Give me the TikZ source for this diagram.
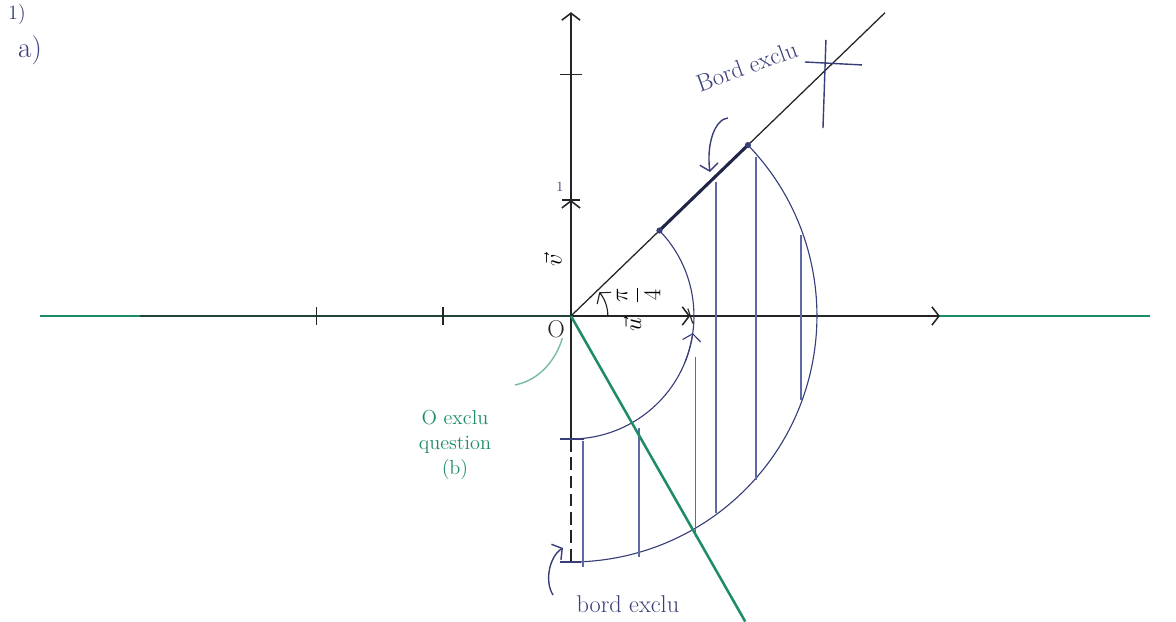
\documentclass[tikz,border=0pt]{standalone}
\usepackage{amsmath}
\usetikzlibrary{arrows.meta, positioning, calc}
\definecolor{inkblue}{RGB}{55, 62, 120}
\definecolor{hatchblue}{RGB}{95, 105, 165}
\definecolor{inkgreen}{RGB}{30, 140, 100}
\definecolor{inkgray}{RGB}{35, 35, 40}

\begin{document}
\begin{tikzpicture}[x=3.075cm, y=3.075cm,
  axisline/.style={draw=inkgray, line width=1.1pt},
  hatch/.style={draw=hatchblue, line width=0.8pt},
  arcline/.style={draw=inkblue, line width=0.8pt},
  handtip/.style={-{Straight Barb[length=5pt, width=13pt]}},
  bluetext/.style={text=inkblue, font=\LARGE},
  greentext/.style={text=inkgreen, font=\Large, align=center}]
  \useasboundingbox (-4.642,-2.480) rectangle (4.919,2.569);

  % repere
  \coordinate (O) at (0,0);
  \coordinate (xl) at (-4.317,0);
  \coordinate (xr) at (3.0,0);
  \coordinate (xg) at (4.707,0);
  \coordinate (yt) at (0,2.47);
  \coordinate (yb) at (0,-1);
  \coordinate (ybb) at (0,-2);
  \coordinate (u) at (0.97,0);
  \coordinate (v) at (0,0.943);
  \draw[inkgreen, line width=1.6pt] (xl) -- (xg);
  \draw[axisline, draw opacity=0.7] (-3.5,0) -- (O);
  \draw[axisline, handtip] (O) -- (xr);
  \draw[inkgreen, line width=1.6pt] (xr) -- (xg);
  \draw[axisline, handtip] (yb) -- (yt);
  \draw[axisline, line width=1.7pt, dash pattern=on 9pt off 4pt] (yb) -- (ybb);
  \foreach \t in {-2.07,-1.04}
    \draw[axisline, line width=0.8pt] (\t,0.07) -- (\t,-0.07);
  \draw[axisline, line width=0.8pt] (-0.09,1.96) -- (0.09,1.96);
  \draw[axisline, handtip] (0,0.75) -- (v);
  \draw[axisline, line width=0.8pt] (-0.07,0.943) -- (0.07,0.943);
  \draw[axisline, handtip] (0.75,0) -- (u);
  \draw[axisline, line width=0.8pt] (0.95,0.06) -- (0.99,-0.06);

  % rayon pi/4
  \coordinate (r1) at (44:1);
  \coordinate (r2) at (44:2);
  \coordinate (r3) at (44:3.55);
  \draw[axisline, line width=0.9pt] (O) -- (r3);
  \draw[inkblue!60!black, line width=2.2pt] (r1) -- (r2);
  \fill[inkblue] (r1) circle (2.2pt) (r2) circle (2.2pt);

  % couronne
  \draw[arcline] (r1) arc (44:-90:1);
  \draw[arcline] (r2) arc (44:-90:2);
  \draw[arcline] (-0.09,-1) -- (0.11,-1);
  \draw[arcline] (-0.09,-2) -- (0.08,-2);
  \draw[arcline, handtip] (-22:1) arc (-22:-8:1);
  \draw[axisline, line width=0.8pt, handtip] (0.3,0) arc (0:40:0.3);

  % hachures
  \foreach \x/\ya/\yb in {0.098/-1.02/-2.04, 0.553/-0.91/-1.96,
      1.016/-0.33/-1.80, 1.179/1.09/-1.60, 1.504/1.29/-1.33, 1.870/0.66/-0.68}
    \draw[hatch] (\x,\ya) -- (\x,\yb);

  % droite verte
  \coordinate (g) at (-60.3:2.86);
  \draw[inkgreen, line width=1.8pt] (O) -- (g);

  % croix
  \coordinate (c1) at (2.073,2.244);
  \coordinate (c2) at (2.049,1.528);
  \coordinate (c3) at (1.902,2.065);
  \coordinate (c4) at (2.366,2.041);
  \draw[arcline, line width=1pt] (c1) -- (c2) (c3) -- (c4);

  % textes
  \node[font=\Large, text=inkblue] (q1) at (-4.504,2.455) {1)};
  \node[font=\huge, text=inkblue] (qa) at (-4.398,2.163) {a)};
  \node[font=\LARGE, text=inkgray] (lo) at (-0.12,-0.11) {O};
  \node[font=\normalsize, text=inkblue] (l1) at (-0.089,1.049) {1};
  \node[font=\LARGE, rotate=90] (lv) at (-0.146,0.455) {$\vec v$};
  \node[font=\LARGE, rotate=90] (lu) at (0.50,-0.07) {$\vec u$};
  \node[font=\LARGE, rotate=90] (lpi) at (0.55,0.17) {$\dfrac{\pi}{4}$};

  \node[bluetext, rotate=20, inner sep=1pt] (bord1) at (1.43,2.03) {Bord exclu};
  \coordinate (b1s) at (1.276,1.610);
  \coordinate (b1e) at (1.130,1.171);
  \draw[inkblue, line width=1pt, handtip] (b1s) .. controls (1.17,1.60) and (1.10,1.40) .. (b1e);

  \node[bluetext] (bord2) at (0.463,-2.341) {bord exclu};
  \coordinate (b2s) at (-0.146,-2.268);
  \coordinate (b2e) at (-0.065,-1.886);
  \draw[inkblue, line width=1pt, handtip] (b2s) .. controls (-0.22,-2.15) and (-0.17,-1.95) .. (b2e);

  \node[greentext] (ob) at (-0.943,-1.049) {O exclu\\question\\(b)};
  \coordinate (ogs) at (-0.455,-0.561);
  \coordinate (oge) at (-0.07,-0.18);
  \draw[inkgreen!60, line width=1pt] (ogs) .. controls (-0.25,-0.52) and (-0.12,-0.35) .. (oge);
\end{tikzpicture}
\end{document}
